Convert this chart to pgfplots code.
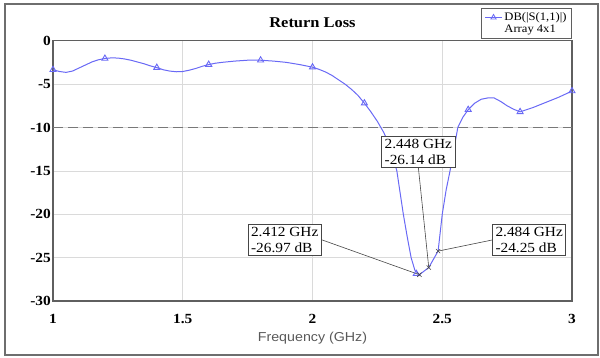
\documentclass[border=0pt]{standalone}
\usepackage{fontspec}
\setmainfont{Liberation Serif}[FakeStretch=1.1]
\newfontfamily\labelsans{Liberation Sans}[FakeStretch=1.1]
\usepackage{pgfplots}
\pgfplotsset{compat=1.18}
\definecolor{curveblue}{RGB}{105,105,245}
\definecolor{framegray}{RGB}{110,110,110}
\definecolor{axgray}{RGB}{95,95,95}
\definecolor{gridgray}{RGB}{218,218,218}
\definecolor{dashgray}{RGB}{120,120,120}
\definecolor{callgray}{RGB}{70,70,70}
\begin{document}
\begin{tikzpicture}
\begin{axis}[
  name=ax,
  at={(0,0)}, anchor=south west,
  scale only axis,
  width=519bp, height=260.3bp,
  xmin=1, xmax=3, ymin=-30, ymax=0,
  xtick={1,1.5,2,2.5,3},
  ytick={-30,-25,-20,-15,-10,-5,0},
  /pgf/number format/assume math mode=true,
  xticklabel style={font=\bfseries\fontsize{14}{14}\selectfont, anchor=base, yshift=-22bp},
  yticklabel style={font=\bfseries\fontsize{14}{14}\selectfont, anchor=east, inner sep=0pt, xshift=-2bp},
  major tick length=0pt,
  grid=major,
  major grid style={draw=gridgray, line width=0.7bp},
  axis line style={draw=axgray, line width=1.2bp},
  title={Return Loss},
  title style={font=\bfseries\fontsize{15}{15}\selectfont, at={(rel axis cs:0.5,1)}, anchor=base, yshift=7bp},
  xlabel={Frequency (GHz)},
  xlabel style={font=\labelsans\fontsize{13}{13}\selectfont, text=black!65, at={(rel axis cs:0.5,0)}, anchor=base, yshift=-40.5bp},
  legend style={at={(rel axis cs:1,1)}, anchor=south east, yshift=1.5bp,
    draw=axgray, line width=1bp, font=\fontsize{11.5}{12}\selectfont,
    inner xsep=3pt, inner ysep=2.5pt, row sep=-1pt, fill=white},
  legend cell align=left,
]
\addplot[dashgray, dashed, dash pattern=on 10bp off 5bp, line width=1bp, forget plot] coordinates {(1,-10) (3,-10)};
\addplot[curveblue, line width=1bp, no marks, forget plot] coordinates {
(1.000,-3.35) (1.025,-3.55) (1.050,-3.65) (1.075,-3.5) (1.100,-3.15) (1.125,-2.8)
(1.150,-2.45) (1.175,-2.2) (1.200,-2.05) (1.225,-1.98) (1.250,-2.0) (1.275,-2.1)
(1.300,-2.25) (1.325,-2.45) (1.350,-2.65) (1.375,-2.9) (1.400,-3.1) (1.425,-3.35)
(1.450,-3.5) (1.475,-3.58) (1.500,-3.55) (1.525,-3.4) (1.550,-3.2) (1.575,-2.95)
(1.600,-2.75) (1.625,-2.6) (1.650,-2.5) (1.700,-2.35) (1.750,-2.25) (1.800,-2.25)
(1.850,-2.35) (1.900,-2.5) (1.950,-2.75) (2.000,-3.05) (2.025,-3.3) (2.050,-3.6)
(2.075,-4.0) (2.100,-4.5) (2.125,-5.0) (2.150,-5.6) (2.175,-6.3) (2.200,-7.2)
(2.225,-8.2) (2.250,-9.3) (2.275,-10.6) (2.300,-12.3) (2.325,-15.0) (2.350,-20.0)
(2.365,-22.6) (2.380,-25.0) (2.395,-26.5) (2.412,-26.97) (2.448,-26.14) (2.484,-24.25)
(2.500,-20.0) (2.515,-17.2) (2.530,-15.0) (2.545,-12.5) (2.560,-10.0) (2.580,-8.8)
(2.600,-7.95) (2.625,-7.2) (2.650,-6.75) (2.675,-6.6) (2.700,-6.6) (2.725,-7.0)
(2.750,-7.5) (2.775,-7.9) (2.800,-8.2) (2.850,-7.7) (2.900,-7.1) (2.950,-6.5) (3.000,-5.8)
};
\addplot[curveblue, only marks, mark=triangle, mark size=3.5bp, mark options={line width=0.9bp}, forget plot] coordinates {
(1.0,-3.35) (1.2,-2.05) (1.4,-3.1) (1.6,-2.75) (1.8,-2.25) (2.0,-3.05)
(2.2,-7.2) (2.4,-26.85) (2.6,-7.95) (2.8,-8.2) (3.0,-5.8)
};
\addplot[callgray, only marks, mark=x, mark size=3bp, mark options={line width=0.6bp}, forget plot] coordinates {
(2.412,-26.97) (2.448,-26.14) (2.484,-24.25)
};
\addlegendimage{curveblue, line width=0.8bp, mark=triangle, mark size=3bp, mark options={line width=0.8bp}}
\addlegendentry{DB(|S(1,1)|)}
\addlegendimage{empty legend}
\addlegendentry{Array 4x1}
\node[draw=callgray, fill=white, line width=0.8bp, align=left, inner xsep=3bp, inner ysep=2.5bp,
  font=\fontsize{14}{16}\selectfont] (b1) at (axis cs:1.893,-22.95) {2.412 GHz\\-26.97 dB};
\node[draw=callgray, fill=white, line width=0.8bp, align=left, inner xsep=3bp, inner ysep=2.5bp,
  font=\fontsize{14}{16}\selectfont] (b2) at (axis cs:2.408,-12.83) {2.448 GHz\\-26.14 dB};
\node[draw=callgray, fill=white, line width=0.8bp, align=left, inner xsep=3bp, inner ysep=2.5bp,
  font=\fontsize{14}{16}\selectfont] (b3) at (axis cs:2.835,-22.97) {2.484 GHz\\-24.25 dB};
\draw[callgray, line width=0.6bp] (b1.east) -- (axis cs:2.412,-26.97);
\draw[callgray, line width=0.6bp] (b2.south) -- (axis cs:2.448,-26.14);
\draw[callgray, line width=0.6bp] (b3.west) -- (axis cs:2.484,-24.25);
\end{axis}
\draw[framegray, line width=1.5bp] (-48bp,-54bp) rectangle (545bp,297bp);
\pgfresetboundingbox
\useasboundingbox (-53bp,-57bp) rectangle (547bp,301bp);
\end{tikzpicture}
\end{document}
